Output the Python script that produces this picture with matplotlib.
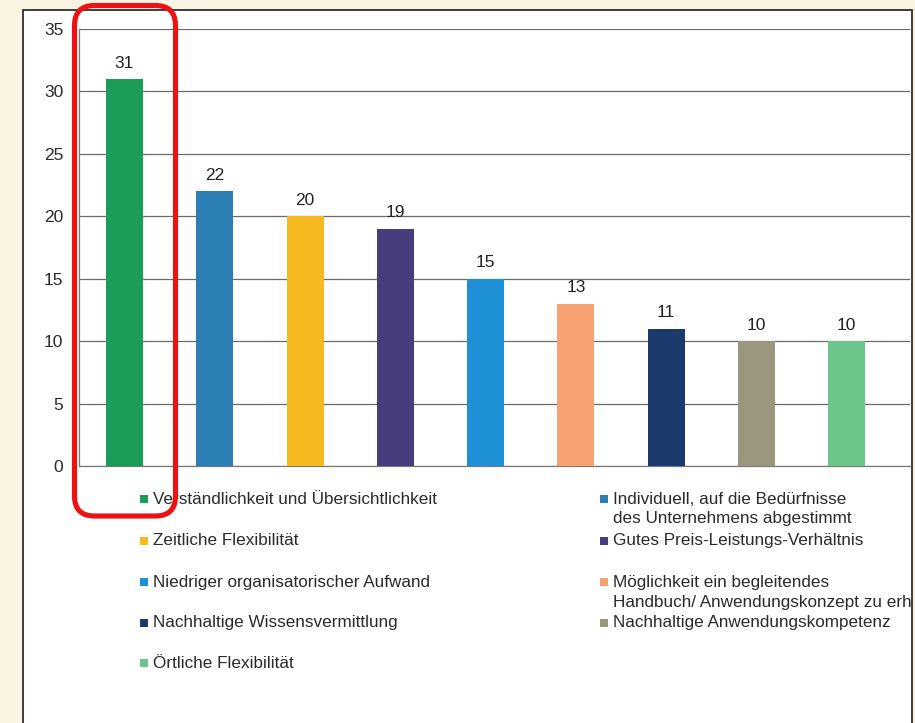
import matplotlib
matplotlib.use("Agg")
import matplotlib.pyplot as plt
from matplotlib.patches import Rectangle, FancyBboxPatch

plt.rcParams["font.family"] = ["Liberation Sans", "DejaVu Sans"]

# Survey results: reasons named, number of mentions
categories = [
    "Verständlichkeit und Übersichtlichkeit",
    "Individuell, auf die Bedürfnisse\ndes Unternehmens abgestimmt",
    "Zeitliche Flexibilität",
    "Gutes Preis-Leistungs-Verhältnis",
    "Niedriger organisatorischer Aufwand",
    "Möglichkeit ein begleitendes\nHandbuch/ Anwendungskonzept zu erhalten",
    "Nachhaltige Wissensvermittlung",
    "Nachhaltige Anwendungskompetenz",
    "Örtliche Flexibilität",
]
values = [31, 22, 20, 19, 15, 13, 11, 10, 10]
colors = ["#1b9d58", "#2c7fb5", "#f6b91f", "#483d7c", "#1e90d6",
          "#f5a172", "#1b3a6c", "#9b977f", "#6cc58b"]
y_ticks = [0, 5, 10, 15, 20, 25, 30, 35]

W, H = 915, 723
fig = plt.figure(figsize=(W / 100, H / 100), dpi=100)
fig.patch.set_facecolor("#fcf4e3")

# white chart panel with dark frame (bottom edge runs off the page)
panel = Rectangle((23 / W, -0.05), (912 - 23) / W, (H - 10) / H + 0.05,
                  transform=fig.transFigure, facecolor="white",
                  edgecolor="#2e2e2e", linewidth=1.3, zorder=-1)
fig.add_artist(panel)

ax = fig.add_axes([79.3 / W, (H - 466) / H, (910 - 79.3) / W, (466 - 29) / H])
ax.set_facecolor("none")
x = list(range(len(values)))
bars = ax.bar(x, values, width=0.41, color=colors, zorder=3)
ax.bar_label(bars, labels=[str(v) for v in values], padding=6,
             fontsize=12.5, color="#222222")

ax.set_xlim(-0.5, 8.7)
ax.set_ylim(0, 35)
ax.set_yticks(y_ticks)
ax.set_xticks([])
ax.tick_params(axis="y", length=0, pad=11.5, labelsize=12.5, labelcolor="#2a2a2a")
ax.yaxis.grid(True, color="#6a6a6a", linewidth=0.9, zorder=0)
ax.set_axisbelow(True)
for side in ("top", "right"):
    ax.spines[side].set_visible(False)
for side in ("left", "bottom"):
    ax.spines[side].set_color("#7a7a7a")
    ax.spines[side].set_linewidth(0.9)

# legend laid out in two columns, filled row by row
row_y = [499, 540.5, 582, 623, 663]
col_x = [(140, 153), (600, 613)]
line_gap = 20
for i, (name, col) in enumerate(zip(categories, colors)):
    r, c = divmod(i, 2)
    mx, tx = col_x[c]
    y0 = row_y[r]
    fig.add_artist(Rectangle((mx / W, (H - y0 - 4) / H), 8 / W, 8 / H,
                             transform=fig.transFigure, facecolor=col,
                             edgecolor="none"))
    for k, line in enumerate(name.split("\n")):
        t = fig.text(tx / W, (H - y0 - k * line_gap) / H, line,
                     fontsize=12.3, color="#2a2a2a", va="center", ha="left")
        t.set_clip_path(panel)

# red highlight around the first bar
hl = FancyBboxPatch((0.745, (H - 516) / 100), 1.01, (516 - 5.5) / 100,
                    boxstyle="round,pad=0,rounding_size=0.2",
                    transform=fig.dpi_scale_trans, facecolor="none",
                    edgecolor="#ee1111", linewidth=3.7, zorder=10)
fig.add_artist(hl)

fig.savefig("out.png", dpi=100, facecolor=fig.get_facecolor())
